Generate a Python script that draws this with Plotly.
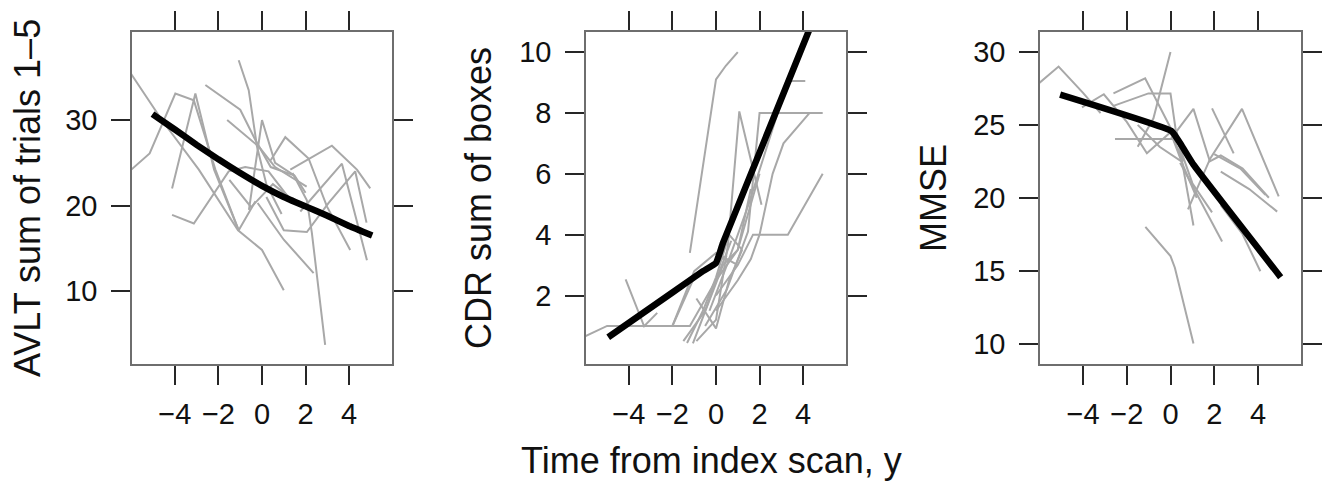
import plotly.graph_objects as go

# ---------------- data ----------------
# Panel 1: AVLT sum of trials 1-5
avlt_times = [
    [-6.3, -4.6, -2.9, -1.1, 0.0, 1.0],
    [-6.0, -5.16, -3.98, -3.13, -2.14, -1.07],
    [-4.13, -3.06, -2.2, -1.07, -0.3],
    [-4.13, -3.13, -1.53, -0.77, 0.3, 1.2],
    [-2.6, -1.0, -0.31, 0.4, 1.5],
    [-1.07, -0.61, -0.23, 0.2, 0.9],
    [-1.6, -0.15, 0.6, 2.05],
    [-0.6, 0.0, 0.6, 1.5, 2.0],
    [0.4, 1.07, 2.14, 2.98, 4.05],
    [1.3, 3.21, 4.36, 4.97],
    [1.76, 3.67, 4.82],
    [0.2, 1.0, 2.06, 3.06, 4.28, 4.8],
    [1.4, 2.06, 2.29, 2.9],
    [-0.2, 1.0, 2.37],
    [-1.5, -0.5, 0.5, 1.5],
]
avlt_values = [
    [36.5, 30.0, 24.2, 17.1, 14.8, 10.1],
    [24.2, 26.1, 33.1, 32.3, 24.2, 17.1],
    [22.0, 33.1, 24.2, 17.1, 20.5],
    [18.9, 17.9, 24.0, 24.5, 24.0, 21.0],
    [34.1, 31.2, 27.7, 24.5, 23.5],
    [37.0, 33.5, 26.9, 22.5, 19.0],
    [30.0, 26.9, 24.5, 22.2],
    [19.5, 30.0, 25.0, 23.5, 21.5],
    [25.3, 28.0, 25.5, 19.9, 14.8],
    [24.2, 27.0, 24.2, 22.0],
    [19.3, 24.9, 13.6],
    [21.0, 17.1, 16.9, 20.3, 24.0, 18.0],
    [23.8, 20.6, 16.8, 3.7],
    [20.3, 16.0, 12.1],
    [23.0, 19.8, 22.5, 20.5],
]
avlt_mean_t = [-5.03, -4, -3, -2, -1, 0, 1, 2, 3, 4, 5.06]
avlt_mean_v = [30.7, 28.9, 27.1, 25.4, 23.8, 22.3, 21.0, 19.9, 18.8, 17.6, 16.5]

# Panel 2: CDR sum of boxes
cdr_times = [
    [-6.2, -5.0, -4.0, -3.0, -2.0, -1.2, 0.0, 1.0, 2.0],
    [-4.15, -3.3, -2.7],
    [-3.0, -2.0, -1.0, -0.2, 0.5],
    [-1.2, 0.0, 0.45, 1.0],
    [-0.9, 0.0, 0.55, 1.07, 2.09],
    [-0.5, 0.5, 1.47, 2.0, 3.0, 4.0, 4.9],
    [0.0, 1.0, 1.6, 2.0, 2.6, 3.1, 4.3],
    [0.0, 1.0, 1.7, 3.3, 4.9],
    [-0.3, 0.5, 1.5, 2.4, 3.3, 4.1],
    [-1.5, -0.5, 0.0, 0.7],
    [-0.9, 0.0, 0.6, 1.2],
    [-1.06, 0.32, 1.0, 1.6],
    [-1.33, -0.6, 0.0, 0.6, 1.2],
    [-2.0, -1.0, 0.0, 1.0],
]
cdr_values = [
    [0.6, 1.0, 1.0, 1.0, 1.0, 1.0, 2.5, 3.5, 6.0],
    [2.53, 0.99, 1.43],
    [1.0, 1.0, 2.6, 3.0, 3.3],
    [3.4, 9.1, 9.55, 10.0],
    [0.5, 1.2, 3.67, 8.05, 4.98],
    [1.0, 2.2, 4.1, 8.0, 8.0, 8.0, 8.0],
    [1.5, 2.5, 3.2, 4.0, 6.0, 7.0, 8.0],
    [2.0, 3.0, 4.0, 4.0, 6.0],
    [1.5, 3.0, 5.0, 7.0, 9.05, 9.05],
    [0.5, 1.5, 2.5, 3.8],
    [1.9, 0.92, 2.5, 3.5],
    [0.43, 3.0, 3.5, 5.5],
    [0.44, 1.5, 2.6, 4.0, 3.5],
    [1.0, 2.8, 3.4, 3.0],
]
cdr_mean_t = [-4.95, -2.0, -0.6, 0.0, 0.32, 5.0]
cdr_mean_v = [0.63, 2.1, 2.8, 3.07, 3.73, 12.0]

# Panel 3: MMSE
mmse_times = [
    [-6.3, -5.12, -4.0, -3.2],
    [-4.05, -3.05, -2.0, -1.08, 0.0, 0.5],
    [-2.61, -1.16, 0.0, 0.8, 1.5],
    [-2.61, -1.01, 0.0, 0.3, 1.0, 1.9],
    [-2.54, 0.13, 0.6],
    [-1.5, -0.78, 0.0],
    [-1.15, 0.0, 0.2, 1.05],
    [0.29, 1.05],
    [0.0, 1.05, 1.8, 2.3, 3.3, 4.5],
    [1.9, 2.89],
    [0.8, 1.82, 3.27, 4.95],
    [2.0, 3.2, 4.34],
    [2.3, 3.6, 4.88],
    [0.44, 2.36],
    [2.3, 3.3, 4.11],
    [-1.5, -0.5, 0.5, 1.2],
]
mmse_values = [
    [27.5, 29.0, 27.2, 25.8],
    [26.2, 27.1, 25.2, 23.05, 24.5, 22.5],
    [27.16, 28.19, 24.8, 23.0, 21.5],
    [26.3, 27.16, 27.16, 24.0, 21.0, 19.0],
    [24.03, 24.03, 22.5],
    [23.5, 25.45, 30.0],
    [18.0, 16.0, 15.2, 10.0],
    [24.5, 18.1],
    [24.0, 26.1, 22.5, 22.9, 22.0, 20.0],
    [26.13, 23.05],
    [19.2, 22.7, 26.1, 20.1],
    [23.0, 22.0, 20.2],
    [21.8, 20.6, 19.05],
    [22.4, 17.0],
    [19.5, 17.5, 14.96],
    [25.0, 23.5, 22.5, 20.0],
]
mmse_mean_t = [-5.05, 0.06, 0.5, 1.06, 5.04]
mmse_mean_v = [27.07, 24.56, 23.6, 22.25, 14.55]

y_titles = ["AVLT sum of trials 1\u20135", "CDR sum of boxes", "MMSE"]
x_title = "Time from index scan, y"
x_ticks = [-4, -2, 0, 2, 4]
y_ticks = [[10, 20, 30], [2, 4, 6, 8, 10], [10, 15, 20, 25, 30]]

# ---------------- layout constants ----------------
W, H = 1333, 487
FONT = "Liberation Sans, Arial, Helvetica, sans-serif"
GRAY = "#a8a8a8"
x_range = [-5.97, 5.97]
y_ranges = [[1.46, 40.3], [-0.25, 10.66], [8.6, 31.37]]
panel_px = [(132, 392), (586, 846), (1040, 1301)]
top_px, bot_px = 32, 364
title_x_px = [28, 479, 934]

fig = go.Figure()
panels = [
    (avlt_times, avlt_values, avlt_mean_t, avlt_mean_v),
    (cdr_times, cdr_values, cdr_mean_t, cdr_mean_v),
    (mmse_times, mmse_values, mmse_mean_t, mmse_mean_v),
]
for i, (ts, vs, mt, mv) in enumerate(panels):
    xa = "x" if i == 0 else f"x{i+1}"
    ya = "y" if i == 0 else f"y{i+1}"
    for t, v in zip(ts, vs):
        fig.add_trace(go.Scatter(x=t, y=v, mode="lines", xaxis=xa, yaxis=ya,
                                 line=dict(color=GRAY, width=2),
                                 showlegend=False, hoverinfo="skip"))
    fig.add_trace(go.Scatter(x=mt, y=mv, mode="lines", xaxis=xa, yaxis=ya,
                             line=dict(color="black", width=6.5, shape="spline", smoothing=0.3),
                             showlegend=False, hoverinfo="skip"))

layout = dict(width=W, height=H, margin=dict(l=0, r=0, t=0, b=0),
              paper_bgcolor="white", plot_bgcolor="white",
              font=dict(family=FONT, color="#111"))
ydom = [1 - bot_px / H, 1 - top_px / H]
axis_common = dict(showline=True, linecolor="#6e6e6e", linewidth=1.6,
                   mirror="ticks", ticks="outside", ticklen=19, tickwidth=1.6,
                   tickcolor="#262626", showgrid=False, zeroline=False,
                   tickfont=dict(family=FONT, size=29, color="#111"))
annotations = []
for i in range(3):
    sx = "" if i == 0 else str(i + 1)
    l, r = panel_px[i]
    layout[f"xaxis{sx}"] = dict(axis_common, domain=[l / W, r / W], range=x_range,
                                tickvals=x_ticks, anchor=f"y{sx}",
                                ticklabelstandoff=4)
    layout[f"yaxis{sx}"] = dict(axis_common, domain=ydom, range=y_ranges[i],
                                tickvals=y_ticks[i], anchor=f"x{sx}",
                                ticklabelstandoff=8)
    annotations.append(dict(text=y_titles[i], xref="paper", yref="paper",
                            x=title_x_px[i] / W, y=1 - ((top_px + bot_px) / 2) / H,
                            xanchor="center", yanchor="middle", textangle=-90,
                            showarrow=False, font=dict(family=FONT, size=36, color="#111")))
annotations.append(dict(text=x_title, xref="paper", yref="paper",
                        x=712 / W, y=1 - 460 / H, xanchor="center", yanchor="middle",
                        showarrow=False, font=dict(family=FONT, size=36, color="#111")))
layout["annotations"] = annotations
fig.update_layout(**layout)
fig.write_html("out.html")
